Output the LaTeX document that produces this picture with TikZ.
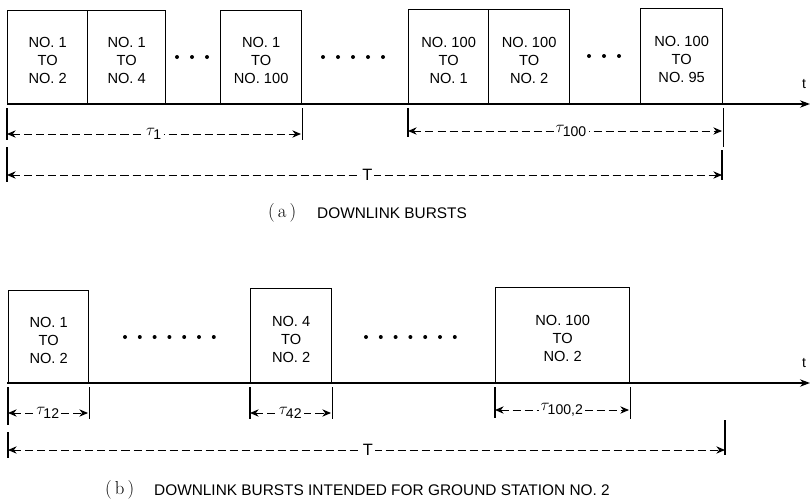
\documentclass[tikz,border=0pt]{standalone}
\usepackage{fontspec}
\setsansfont{Liberation Sans}
\usepackage{tikz}
\usetikzlibrary{arrows.meta,positioning}
\tikzset{
  burst/.style={draw,line width=1.1pt,anchor=south west,minimum height=93*0.03cm,inner sep=0pt,
    font=\sffamily\fontsize{12.5}{15.3}\selectfont},
  timeaxis/.style={line width=1.3pt,-{Stealth[length=0.3cm,width=0.22cm]}},
  tick/.style={line width=0.9pt},
  span/.style={dashed,dash pattern=on 0.24cm off 0.12cm,line width=0.8pt,
    {Stealth[length=0.26cm,width=0.22cm]}-{Stealth[length=0.26cm,width=0.22cm]}},
  spanlbl/.style={fill=white,inner sep=1.5pt,font=\sffamily\fontsize{14}{16}\selectfont},
  capno/.style={anchor=west,font=\rmfamily\fontsize{16}{18}\selectfont},
  caplbl/.style={anchor=west,font=\sffamily\fontsize{13.15}{15}\selectfont},
}
\newcommand\tsub[1]{$\tau_{\mbox{\sffamily\fontsize{12}{14}\selectfont #1}}$}
\newcommand\burstnos[3]{\raisebox{-4.5pt}[\height][\depth]{\begin{tabular}{@{}c@{}}#1\\#2\\#3\end{tabular}}}

\begin{document}
\begin{tikzpicture}[x=0.03cm,y=-0.03cm]
\useasboundingbox (0,0) rectangle (811,499);

% ================= (a) downlink bursts =================
\coordinate (a0) at (7,104);
\coordinate (a1) at (810,104);
\draw[timeaxis] (a0) -- (a1);
\node[font=\sffamily\large] (ta) at (804,84) {t};

\node[burst,minimum width=80*0.03cm] (a11) at (7,104) {\burstnos{NO. 1}{TO}{NO. 2}};
\node[burst,minimum width=78*0.03cm] (a12) at (87,104) {\burstnos{NO. 1}{TO}{NO. 4}};
\node[burst,minimum width=81*0.03cm] (a13) at (220,104) {\burstnos{NO. 1}{TO}{NO. 100}};
\node[burst,minimum width=80*0.03cm,minimum height=94*0.03cm] (a21) at (408,104) {\burstnos{NO. 100}{TO}{NO. 1}};
\node[burst,minimum width=81*0.03cm,minimum height=94*0.03cm] (a22) at (488,104) {\burstnos{NO. 100}{TO}{NO. 2}};
\node[burst,minimum width=82*0.03cm,minimum height=95*0.03cm] (a23) at (640,104) {\burstnos{NO. 100}{TO}{NO. 95}};
\foreach \x in {177,192,207} \fill (\x,57) circle (2);
\foreach \x in {323,338,353,368,383} \fill (\x,57) circle (2);
\foreach \x in {589,604,619} \fill (\x,56) circle (2);

% spans
\draw[tick] (a11.south west) ++(0,4) coordinate (k1) -- ++(0,32) coordinate (k1b);
\draw[tick] (a13.south east) ++(0,4) coordinate (k2) -- ++(0,32);
\draw[tick] (a21.south west) ++(0,4) -- ++(0,29);
\draw[tick] (a23.south east) ++(0,4) -- ++(0,39);
\coordinate (s1a) at (7,134);   \coordinate (s1b) at (301,134);
\coordinate (s2a) at (408,131); \coordinate (s2b) at (722,131);
\draw[span] (s1a) -- node[spanlbl] (lt1) {\tsub{1}} (s1b);
\draw[span] (s2a) -- node[spanlbl,pos=0.52] (lt100) {\tsub{100}} (s2b);

\draw[tick] (7,147) coordinate (k5) -- (7,182);
\draw[tick] (722,150) coordinate (k6) -- (722,180);
\coordinate (Ta) at (7,175); \coordinate (Tb) at (722,175);
\draw[span] (Ta) -- node[spanlbl,pos=0.504] (lT) {T} (Tb);

\node[capno] (capa) at (264,213) {(\,a\,)};
\node[caplbl] (capatxt) at (313,213) {DOWNLINK BURSTS};

% ================= (b) bursts for ground station 2 =================
\coordinate (b0) at (7,383);
\coordinate (b1) at (810,383);
\draw[timeaxis] (b0) -- (b1);
\node[font=\sffamily\large] (tb) at (804,363) {t};

\node[burst,minimum width=80*0.03cm,minimum height=92*0.03cm] (b11) at (8,383) {\burstnos{NO. 1}{TO}{NO. 2}};
\node[burst,minimum width=81*0.03cm,minimum height=94*0.03cm] (b12) at (250,383) {\burstnos{NO. 4}{TO}{NO. 2}};
\node[burst,minimum width=134*0.03cm,minimum height=95*0.03cm] (b13) at (495,383) {\burstnos{NO. 100}{TO}{NO. 2}};
\foreach \x in {0,...,6} \fill ({125+\x*14.8},337) circle (2);
\foreach \x in {0,...,6} \fill ({366+\x*14.8},337) circle (2);

% spans
\foreach \b/\h in {b11/38,b12/32,b13/31}{
  \draw[tick] (\b.south west) ++(0,4) -- ++(0,\h);
  \draw[tick] (\b.south east) ++(0,4) -- ++(0,32);
}
\coordinate (u1a) at (8,413);   \coordinate (u1b) at (88,413);
\coordinate (u2a) at (250,413); \coordinate (u2b) at (331,413);
\coordinate (u3a) at (495,410); \coordinate (u3b) at (629,410);
\draw[span] (u1a) -- node[spanlbl] (l12) {\tsub{12}} (u1b);
\draw[span] (u2a) -- node[spanlbl] (l42) {\tsub{42}} (u2b);
\draw[span] (u3a) -- node[spanlbl] (l1002) {\tsub{100,2}} (u3b);

\draw[tick] (8,432) -- (8,458);
\draw[tick] (725,420) -- (725,455);
\coordinate (Tc) at (8,450); \coordinate (Td) at (725,450);
\draw[span] (Tc) -- node[spanlbl,pos=0.502] (lTb) {T} (Td);

\node[capno] (capb) at (101,490) {(\,b\,)};
\node[caplbl] (capbtxt) at (150,490) {DOWNLINK BURSTS INTENDED FOR GROUND STATION NO. 2};

\end{tikzpicture}
\end{document}
